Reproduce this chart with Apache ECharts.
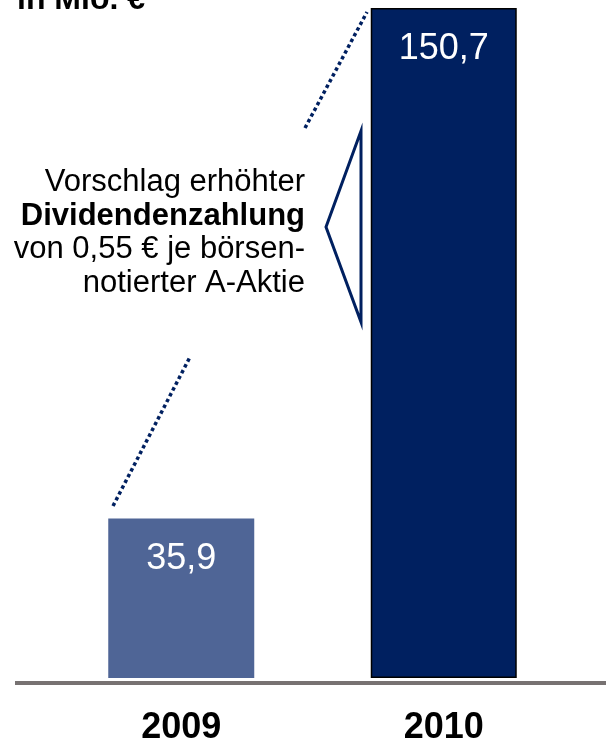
<!DOCTYPE html>
<html lang="de" style="height: 100%">
<head>
  <meta charset="utf-8">
</head>
<body style="height: 100%; margin: 0; background: #fff">
  <div id="container" style="width: 606px; height: 743px"></div>

  <script type="text/javascript" src="https://cdn.jsdelivr.net/npm/echarts@6/dist/echarts.min.js"></script>
  <script type="text/javascript">
    // Daten
    var years = ['2009', '2010'];
    var values = [35.9, 150.7];
    var barColors = ['#4f6596', '#002060'];

    var dom = document.getElementById('container');
    var myChart = echarts.init(dom, null, { renderer: 'canvas' });
    var font = '"Liberation Sans", Arial, sans-serif';
    var blue = '#002060';

    var option = {
      animation: false,
      grid: { left: 50, right: 31, top: 8, bottom: 65, outerBoundsMode: 'none', containLabel: false },
      xAxis: {
        type: 'category',
        data: years,
        axisLine: { show: false },
        axisTick: { show: false },
        axisLabel: {
          margin: 32,
          color: '#000',
          fontFamily: font,
          fontWeight: 'bold',
          fontSize: 36
        }
      },
      yAxis: {
        type: 'value',
        min: 0,
        max: 'dataMax',
        show: false,
        splitLine: { show: false }
      },
      series: [{
        type: 'bar',
        barWidth: 146,
        data: values.map(function (v, i) {
          return {
            value: v,
            itemStyle: {
              color: barColors[i],
              borderColor: i === 1 ? '#000' : barColors[i],
              borderWidth: i === 1 ? 1.5 : 0
            }
          };
        }),
        label: {
          show: true,
          position: 'insideTop',
          distance: 23,
          color: '#fff',
          fontFamily: font,
          fontSize: 36,
          formatter: function (p) {
            return String(p.value).replace('.', ',');
          }
        }
      }],
      graphic: [
        // Einheit oben links (angeschnitten)
        {
          type: 'text', left: 17, top: -16,
          style: { text: 'in Mio. €', font: 'bold 32px ' + font, fill: '#000' }
        },
        // Grundlinie
        {
          type: 'line',
          shape: { x1: 15, y1: 683, x2: 606, y2: 683 },
          style: { stroke: '#777272', lineWidth: 4 }
        },
        // gepunktete Verbindungslinien
        {
          type: 'line',
          shape: { x1: 305, y1: 128, x2: 367, y2: 12 },
          style: { stroke: blue, lineWidth: 3.5, lineDash: [3.5, 3] }
        },
        {
          type: 'line',
          shape: { x1: 113, y1: 506, x2: 190, y2: 357 },
          style: { stroke: blue, lineWidth: 3.5, lineDash: [3.5, 3] }
        },
        // Pfeil-Dreieck
        {
          type: 'polygon',
          shape: { points: [[361, 131], [326, 227], [361, 322]] },
          style: { fill: '#fff', stroke: blue, lineWidth: 3 }
        },
        // Beschriftung
        {
          type: 'text', x: 305, y: 233,
          style: {
            text: '{n|Vorschlag erhöhter}\n{b|Dividendenzahlung}\n{n|von 0,55 € je börsen-}\n{n|notierter A-Aktie}',
            align: 'right',
            verticalAlign: 'middle',
            rich: {
              n: { fontFamily: font, fontSize: 31, lineHeight: 33.5, color: '#000', align: 'right' },
              b: { fontFamily: font, fontSize: 31, fontWeight: 'bold', lineHeight: 33.5, color: '#000', align: 'right' }
            }
          }
        }
      ]
    };

    myChart.setOption(option);
    window.addEventListener('resize', myChart.resize);
  </script>
</body>
</html>
